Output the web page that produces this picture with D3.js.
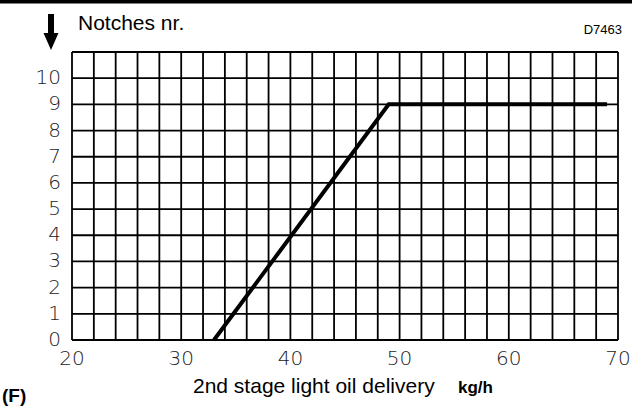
<!DOCTYPE html>
<html>
<head>
<meta charset="utf-8">
<script src="https://cdn.jsdelivr.net/npm/d3@7"></script>
<style>
  body { margin: 0; background: #fff; }
  svg { display: block; }
</style>
</head>
<body>
<div id="chart"></div>
<script>
// Data
const deliveryKgH = [33, 49, 69];
const notches = [0, 9, 9];
const xTickValues = [20, 30, 40, 50, 60, 70];
const yTickValues = [0, 1, 2, 3, 4, 5, 6, 7, 8, 9, 10];

const margin = {top: 52, right: 14, bottom: 67, left: 72},
      width = 632 - margin.left - margin.right,
      height = 407 - margin.top - margin.bottom;

const root = d3.select("#chart")
  .append("svg")
    .attr("width", 632)
    .attr("height", 407);

const svg = root.append("g")
    .attr("transform", `translate(${margin.left},${margin.top})`);

const x = d3.scaleLinear().domain([20, 70]).range([0, width]);
const y = d3.scaleLinear().domain([0, 11]).range([height, 0]);

const sans = "'Liberation Sans', Arial, sans-serif";
const tickFont = "'DejaVu Sans', sans-serif";

// top rule
root.append("rect")
    .attr("x", 0).attr("y", 0)
    .attr("width", 632).attr("height", 3.5)
    .attr("fill", "#000");

// grid, every 2 kg/h and every notch
svg.append("g")
  .selectAll("line")
  .data(d3.range(20, 71, 2))
  .join("line")
    .attr("x1", d => x(d)).attr("x2", d => x(d))
    .attr("y1", 0).attr("y2", height)
    .attr("stroke", "#000")
    .attr("stroke-width", 1.8);

svg.append("g")
  .selectAll("line")
  .data(d3.range(0, 12))
  .join("line")
    .attr("x1", 0).attr("x2", width)
    .attr("y1", d => y(d)).attr("y2", d => y(d))
    .attr("stroke", "#000")
    .attr("stroke-width", 1.8);

// tick labels
svg.append("g")
  .selectAll("text")
  .data(yTickValues)
  .join("text")
    .attr("x", -11)
    .attr("y", d => y(d))
    .attr("dy", "0.3em")
    .attr("text-anchor", "end")
    .style("font-family", tickFont)
    .style("font-weight", 200)
    .style("font-size", "20px")
    .attr("fill", "#222")
    .text(d => d);

svg.append("g")
  .selectAll("text")
  .data(xTickValues)
  .join("text")
    .attr("x", d => x(d))
    .attr("y", height + 25)
    .attr("text-anchor", "middle")
    .style("font-family", tickFont)
    .style("font-weight", 200)
    .style("font-size", "20px")
    .attr("fill", "#222")
    .text(d => d);

// the curve
const pts = deliveryKgH.map((d, i) => [d, notches[i]]);
svg.append("path")
    .datum(pts)
    .attr("fill", "none")
    .attr("stroke", "#000")
    .attr("stroke-width", 4)
    .attr("stroke-linejoin", "miter")
    .attr("d", d3.line()
      .x(d => x(d[0]))
      .y(d => y(d[1])));

// arrow and titles
root.append("path")
    .attr("d", "M48,14 H54 V33 H58.5 L51,50 L43.5,33 H48 Z")
    .attr("fill", "#000");

root.append("text")
    .attr("x", 78).attr("y", 30)
    .style("font-family", sans)
    .style("font-size", "21px")
    .text("Notches nr.");

root.append("text")
    .attr("x", 622).attr("y", 34)
    .attr("text-anchor", "end")
    .style("font-family", sans)
    .style("font-size", "13px")
    .text("D7463");

root.append("text")
    .attr("x", 193).attr("y", 393)
    .style("font-family", sans)
    .style("font-size", "21px")
    .text("2nd stage light oil delivery");

root.append("text")
    .attr("x", 458).attr("y", 393)
    .style("font-family", sans)
    .style("font-size", "17px")
    .style("font-weight", "bold")
    .text("kg/h");

root.append("text")
    .attr("x", 2).attr("y", 402)
    .style("font-family", sans)
    .style("font-size", "19px")
    .style("font-weight", "bold")
    .text("(F)");
</script>
</body>
</html>
